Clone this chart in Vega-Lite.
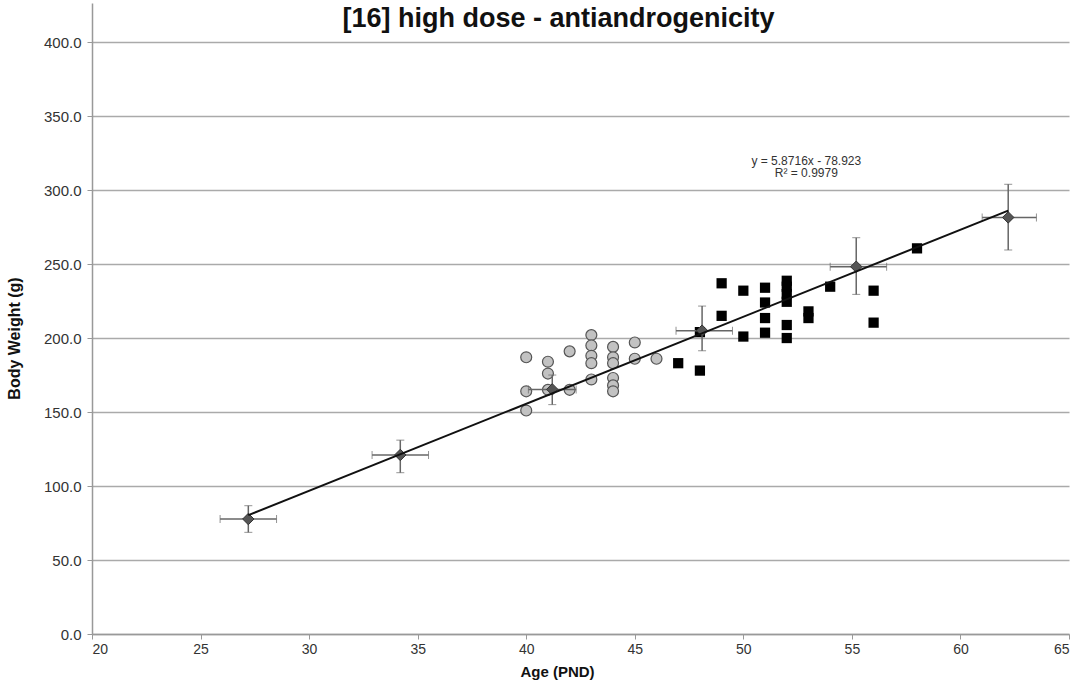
{
  "$schema": "https://vega.github.io/schema/vega-lite/v6.json",
  "width": 977,
  "height": 631,
  "autosize": {"type": "none"},
  "padding": {"left": 92, "top": 3, "right": 15, "bottom": 58},
  "background": "white",
  "title": {
    "text": "[16] high dose - antiandrogenicity",
    "font": "Liberation Sans",
    "fontSize": 27,
    "fontWeight": "bold",
    "color": "#111",
    "anchor": "middle",
    "dx": -22,
    "dy": 34
  },
  "config": {
    "view": {"stroke": null},
    "axis": {
      "labelFont": "Liberation Sans",
      "titleFont": "Liberation Sans",
      "labelColor": "#333",
      "titleColor": "#111",
      "domainColor": "#999",
      "tickColor": "#999",
      "gridColor": "#aaa",
      "gridWidth": 1.5,
      "domainWidth": 1.5
    }
  },
  "datasets": {
    "circles": [
      {"age": 40, "weight": 187}, {"age": 40, "weight": 164}, {"age": 40, "weight": 151},
      {"age": 41, "weight": 184}, {"age": 41, "weight": 176}, {"age": 41, "weight": 165},
      {"age": 42, "weight": 191}, {"age": 42, "weight": 165},
      {"age": 43, "weight": 202}, {"age": 43, "weight": 195}, {"age": 43, "weight": 188}, {"age": 43, "weight": 183}, {"age": 43, "weight": 172},
      {"age": 44, "weight": 194}, {"age": 44, "weight": 187}, {"age": 44, "weight": 183}, {"age": 44, "weight": 173}, {"age": 44, "weight": 168}, {"age": 44, "weight": 164},
      {"age": 45, "weight": 197}, {"age": 45, "weight": 186},
      {"age": 46, "weight": 186}
    ],
    "squares": [
      {"age": 47, "weight": 183},
      {"age": 48, "weight": 178}, {"age": 48, "weight": 204},
      {"age": 49, "weight": 237}, {"age": 49, "weight": 215},
      {"age": 50, "weight": 232}, {"age": 50, "weight": 201},
      {"age": 51, "weight": 234}, {"age": 51, "weight": 224}, {"age": 51, "weight": 213.5}, {"age": 51, "weight": 203.6},
      {"age": 52, "weight": 238.7}, {"age": 52, "weight": 234.7}, {"age": 52, "weight": 229.7}, {"age": 52, "weight": 224.5}, {"age": 52, "weight": 208.8}, {"age": 52, "weight": 200},
      {"age": 53, "weight": 218}, {"age": 53, "weight": 213.5},
      {"age": 54, "weight": 234.7},
      {"age": 56, "weight": 232}, {"age": 56, "weight": 210.4},
      {"age": 58, "weight": 260.6}
    ],
    "means": [
      {"age": 27.2, "weight": 77.7, "agelo": 25.9, "agehi": 28.5, "wlo": 68.7, "whi": 86.7},
      {"age": 34.2, "weight": 121, "agelo": 32.9, "agehi": 35.5, "wlo": 109, "whi": 131},
      {"age": 41.2, "weight": 165.3, "agelo": 40.1, "agehi": 42.3, "wlo": 155, "whi": 175},
      {"age": 48.1, "weight": 205, "agelo": 46.9, "agehi": 49.5, "wlo": 191.4, "whi": 221.6},
      {"age": 55.2, "weight": 248.2, "agelo": 54.0, "agehi": 56.6, "wlo": 229.5, "whi": 267.8},
      {"age": 62.2, "weight": 281.5, "agelo": 61.0, "agehi": 63.5, "wlo": 259.5, "whi": 303.9}
    ],
    "eq": [
      {"age": 52.9, "weight": 319.6, "label": "y = 5.8716x - 78.923"},
      {"age": 52.9, "weight": 311.5, "label": "R² = 0.9979"}
    ]
  },
  "encoding": {
    "x": {
      "field": "age", "type": "quantitative",
      "scale": {"domain": [20, 65], "nice": false, "zero": false},
      "axis": {
        "title": "Age (PND)",
        "values": [20, 25, 30, 35, 40, 45, 50, 55, 60, 65],
        "grid": false,
        "labelFontSize": 14,
        "tickSize": 5,
        "labelPadding": 3,
        "titleFontSize": 15,
        "titleFontWeight": "bold",
        "titleX": 465,
        "titleY": 30,
        "titleBaseline": "top"
      }
    },
    "y": {
      "field": "weight", "type": "quantitative",
      "scale": {"domain": [0, 426.4], "nice": false},
      "axis": {
        "title": "Body  Weight (g)",
        "values": [0, 50, 100, 150, 200, 250, 300, 350, 400],
        "format": ".1f",
        "labelFontSize": 15,
        "tickSize": 5,
        "labelPadding": 6,
        "titleFontSize": 16,
        "titleFontWeight": "bold",
        "titleX": -70,
        "titleY": 335
      }
    }
  },
  "layer": [
    {
      "data": {"name": "circles"},
      "mark": {"type": "point", "shape": "circle", "filled": true, "size": 120, "fill": "#c2c2c2", "stroke": "#555", "strokeWidth": 1.2, "opacity": 1}
    },
    {
      "data": {"name": "squares"},
      "mark": {"type": "point", "shape": "square", "filled": true, "size": 105, "color": "#000", "opacity": 1}
    },
    {
      "data": {"name": "means"},
      "mark": {"type": "errorbar", "ticks": {"size": 8, "color": "#666"}, "rule": {"color": "#666", "strokeWidth": 1.5}},
      "encoding": {
        "x": {"field": "agelo", "type": "quantitative"},
        "x2": {"field": "agehi"},
        "y": {"field": "weight", "type": "quantitative"}
      }
    },
    {
      "data": {"name": "means"},
      "mark": {"type": "errorbar", "ticks": {"size": 8, "color": "#666"}, "rule": {"color": "#666", "strokeWidth": 1.5}},
      "encoding": {
        "y": {"field": "wlo", "type": "quantitative"},
        "y2": {"field": "whi"},
        "x": {"field": "age", "type": "quantitative"}
      }
    },
    {
      "data": {"name": "means"},
      "mark": {"type": "point", "shape": "diamond", "filled": true, "size": 130, "fill": "#555", "stroke": "#333", "strokeWidth": 1, "opacity": 1}
    },
    {
      "data": {"name": "means"},
      "transform": [{"regression": "weight", "on": "age"}],
      "mark": {"type": "line", "color": "#111", "strokeWidth": 2}
    },
    {
      "data": {"name": "eq"},
      "mark": {"type": "text", "font": "Liberation Sans", "fontSize": 12, "color": "#333", "align": "center", "baseline": "middle"},
      "encoding": {"text": {"field": "label"}}
    }
  ]
}
